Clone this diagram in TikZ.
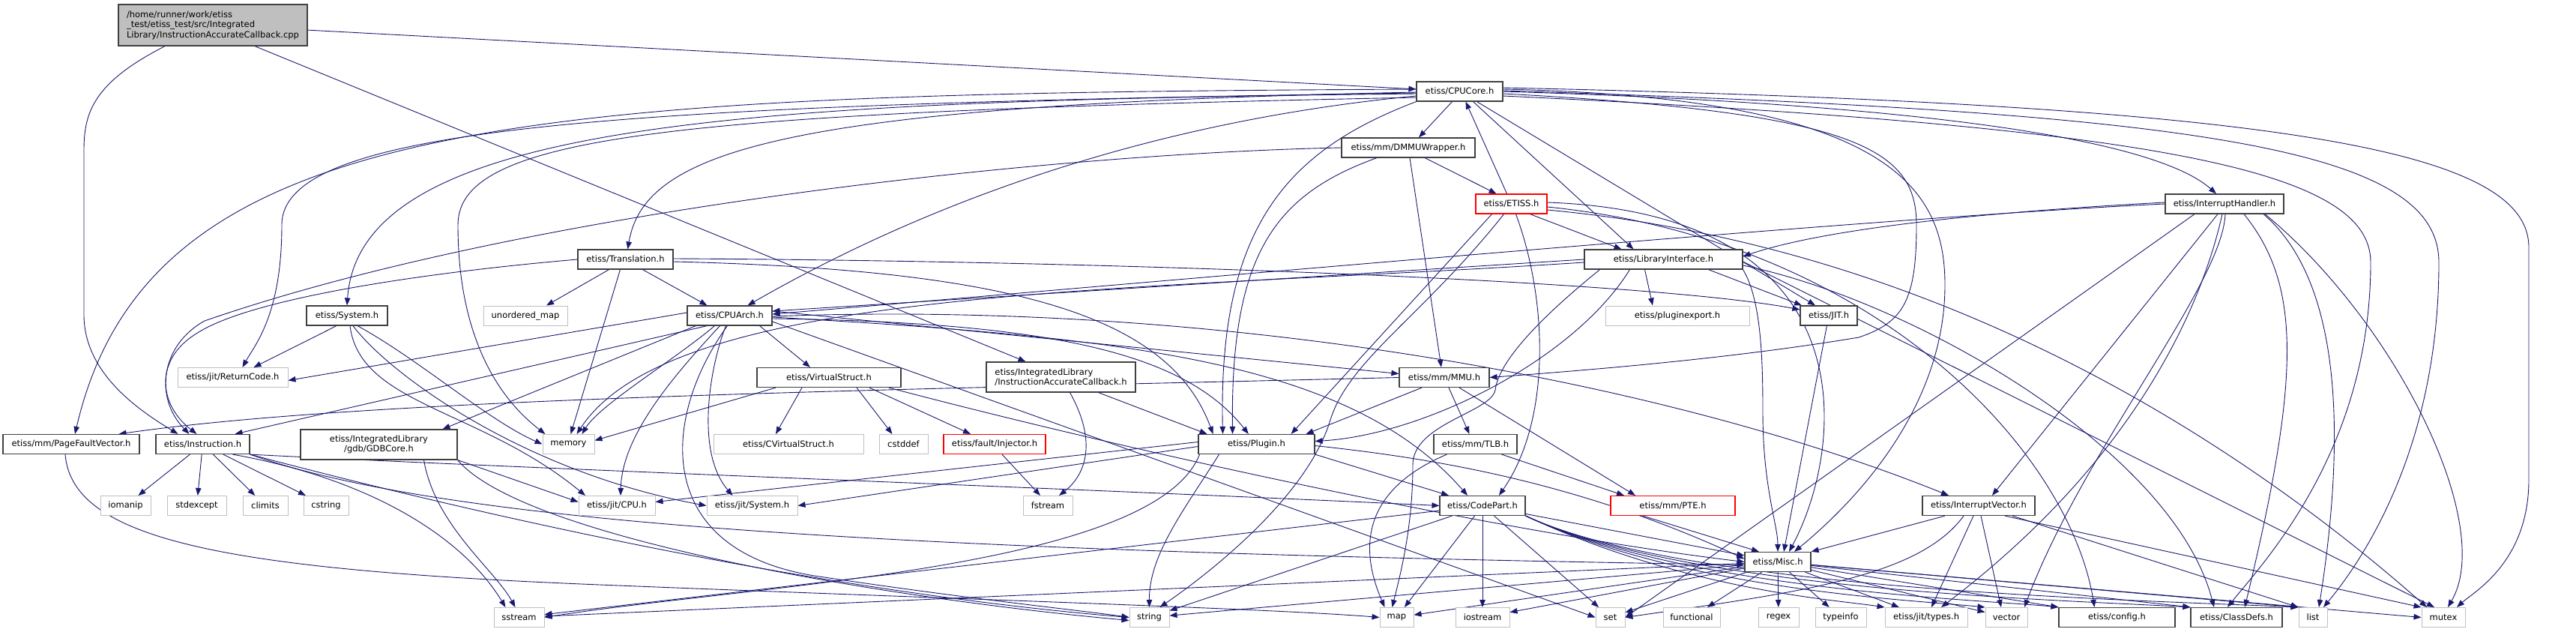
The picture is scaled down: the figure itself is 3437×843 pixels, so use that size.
\documentclass[tikz,border=0pt]{standalone}
\usepackage{fontspec}
\setmainfont{DejaVu Sans}
\usetikzlibrary{arrows.meta}
\pgfdeclarelayer{edges}
\pgfsetlayers{edges,main}
\definecolor{edgeblue}{HTML}{191970}
\definecolor{framegrey}{HTML}{404040}
\definecolor{lightframe}{HTML}{BFBFBF}
\definecolor{filegrey}{HTML}{BFBFBF}
\begin{document}
\begin{tikzpicture}[x=1pt, y=-1pt,
  every node/.style={font=\fontsize{11.5}{13.5}\selectfont, inner sep=0pt, minimum height=26pt},
  hdr/.style={draw=framegrey, line width=1.2pt, fill=white},
  sysinc/.style={draw=lightframe, line width=1pt, fill=white},
  partial/.style={draw=red, line width=1.2pt, fill=white},
  srcfile/.style={draw=framegrey, line width=1.2pt, fill=filegrey, align=left},
  dep/.style={edgeblue, line width=0.9pt, -{Triangle[length=10pt,width=7.5pt]}}]
\useasboundingbox (0,0) rectangle (3437,843);

\node[srcfile, minimum width=252pt, minimum height=55pt] (root) at (284,33.5) {/home/runner/work/etiss\\\_test/etiss\_test/src/Integrated\\Library/InstructionAccurateCallback.cpp};
\node[hdr, minimum width=115pt] (cc) at (1947.5,122) {etiss/CPUCore.h};
\node[hdr, minimum width=178pt] (dmmu) at (1879,197) {etiss/mm/DMMUWrapper.h};
\node[partial, minimum width=95pt] (et) at (2016.5,272) {etiss/ETISS.h};
\node[hdr, minimum width=211pt] (li) at (2219.5,346) {etiss/LibraryInterface.h};
\node[hdr, minimum width=158pt] (ih) at (2968,272) {etiss/InterruptHandler.h};
\node[hdr, minimum width=127pt] (tr) at (834.5,346) {etiss/Translation.h};
\node[hdr, minimum width=113pt] (cpa) at (973.5,421) {etiss/CPUArch.h};
\node[hdr, minimum width=108pt] (sys) at (463,421) {etiss/System.h};
\node[sysinc, minimum width=112pt] (um) at (701,421) {unordered\_map};
\node[sysinc, minimum width=192pt] (pe) at (2238,421) {etiss/pluginexport.h};
\node[hdr, minimum width=76pt] (jit) at (2440,421) {etiss/JIT.h};
\node[sysinc, minimum width=147pt] (rc) at (310.5,503.5) {etiss/jit/ReturnCode.h};
\node[hdr, minimum width=192pt] (vs) at (1106,503.5) {etiss/VirtualStruct.h};
\node[hdr, minimum width=199pt, minimum height=40pt, align=left] (iacb) at (1415.5,503) {etiss/IntegratedLibrary\\/InstructionAccurateCallback.h};
\node[hdr, minimum width=120pt] (mmu) at (1927,503.5) {etiss/mm/MMU.h};
\node[hdr, minimum width=182pt] (pfv) at (95,592.5) {etiss/mm/PageFaultVector.h};
\node[hdr, minimum width=125pt] (ins) at (270.5,592.5) {etiss/Instruction.h};
\node[hdr, minimum width=209pt, minimum height=40pt, align=center] (gdb) at (505.5,593) {etiss/IntegratedLibrary\\/gdb/GDBCore.h};
\node[sysinc, minimum width=69pt] (mem) at (758.5,592.5) {memory};
\node[sysinc, minimum width=200pt] (cvs) at (1052,592.5) {etiss/CVirtualStruct.h};
\node[sysinc, minimum width=65pt] (cstd) at (1205.5,592.5) {cstddef};
\node[partial, minimum width=136pt] (inj) at (1327,592.5) {etiss/fault/Injector.h};
\node[hdr, minimum width=155pt] (plg) at (1676.5,592.5) {etiss/Plugin.h};
\node[hdr, minimum width=111pt] (tlb) at (1968.5,592.5) {etiss/mm/TLB.h};
\node[sysinc, minimum width=67pt] (ioman) at (167.5,674.5) {iomanip};
\node[sysinc, minimum width=79pt] (stdx) at (262.5,674.5) {stdexcept};
\node[sysinc, minimum width=60pt] (clim) at (354,674.5) {climits};
\node[sysinc, minimum width=60pt] (cstr) at (435,674.5) {cstring};
\node[sysinc, minimum width=102pt] (jcpu) at (823,674.5) {etiss/jit/CPU.h};
\node[sysinc, minimum width=121pt] (jsys) at (1003.5,674.5) {etiss/jit/System.h};
\node[sysinc, minimum width=66pt] (fst) at (1398,674.5) {fstream};
\node[hdr, minimum width=114pt] (cp) at (1978,674.5) {etiss/CodePart.h};
\node[partial, minimum width=166pt] (pte) at (2232,674.5) {etiss/mm/PTE.h};
\node[hdr, minimum width=150pt] (iv) at (2640,674.5) {etiss/InterruptVector.h};
\node[hdr, minimum width=88pt] (misc) at (2372,749.5) {etiss/Misc.h};
\node[sysinc, minimum width=67pt] (ss) at (692.5,823.5) {sstream};
\node[sysinc, minimum width=53pt] (str) at (1533.5,823.5) {string};
\node[sysinc, minimum width=45pt] (map) at (1863.5,823.5) {map};
\node[sysinc, minimum width=72pt] (ios) at (1978,823.5) {iostream};
\node[sysinc, minimum width=39pt] (set) at (2148.5,823.5) {set};
\node[sysinc, minimum width=76pt] (fun) at (2257,823.5) {functional};
\node[sysinc, minimum width=54pt] (rgx) at (2373,823.5) {regex};
\node[sysinc, minimum width=68pt] (tpi) at (2456,823.5) {typeinfo};
\node[sysinc, minimum width=110pt] (typ) at (2570,823.5) {etiss/jit/types.h};
\node[sysinc, minimum width=56pt] (vec) at (2677,823.5) {vector};
\node[hdr, minimum width=155pt] (cfg) at (2824.5,823.5) {etiss/config.h};
\node[hdr, minimum width=122pt] (cd) at (2984,823.5) {etiss/ClassDefs.h};
\node[sysinc, minimum width=38pt] (lst) at (3086,823.5) {list};
\node[sysinc, minimum width=58pt] (mtx) at (3260,823.5) {mutex};

\begin{pgfonlayer}{edges}
\draw[dep] (root) -- (cc);
\draw[dep] ([xshift=-64pt]root.south) .. controls (125,110) and (112,150) .. (112,200) -- (112,420) .. controls (112,500) and (190,550) .. ([xshift=-33pt]ins.north);
\draw[dep] ([xshift=56pt]root.south) -- ([xshift=-47pt]iacb.north);

\draw[dep] ([xshift=-10pt]cc.south) -- ([xshift=14pt]dmmu.north);
\draw[dep] ([xshift=18pt]cc.south) -- ([xshift=-40pt]li.north);
\draw[dep] ([xshift=23pt]cc.south) -- ([xshift=-18pt]jit.north);
\draw[dep] (cc.east) .. controls (2600,140) and (2880,190) .. ([xshift=-11pt]ih.north);
\draw[dep] ([yshift=-6pt]cc.west) .. controls (1450,170) and (1150,320) .. ([xshift=24pt]cpa.north);
\draw[dep] ([yshift=-3pt]cc.west) .. controls (1000,135) and (480,160) .. (sys.north);
\draw[dep] ([yshift=-1pt]cc.west) .. controls (1050,140) and (860,200) .. ([xshift=3pt]tr.north);
\draw[dep] ([yshift=3pt]cc.west) .. controls (700,125) and (200,150) .. ([xshift=5pt]pfv.north);
\draw[dep] ([yshift=-8pt]cc.west) .. controls (900,150) and (611,180) .. (611,300) .. controls (611,480) and (690,550) .. ([xshift=-31pt]mem.north);
\draw[dep] ([yshift=-2pt]cc.west) .. controls (800,140) and (376,170) .. (376,300) .. controls (376,420) and (340,460) .. ([xshift=13pt]rc.north);
\draw[dep] (cc.south west) .. controls (1720,200) and (1625,300) .. ([xshift=-45pt]plg.north);
\draw[dep] ([yshift=-3pt]cc.east) .. controls (2480,150) and (2557,200) .. (2557,300) .. controls (2557,400) and (2540,430) .. (2480,450) .. controls (2300,480) and (2100,495) .. (mmu.east);
\draw[dep] ([yshift=3pt]cc.east) .. controls (2520,130) and (2595,250) .. (2595,380) .. controls (2595,560) and (2450,690) .. ([xshift=22pt]misc.north);
\draw[dep] ([yshift=-6pt]cc.east) .. controls (2900,170) and (3163,230) .. (3163,350) .. controls (3163,600) and (3020,750) .. ([xshift=-12pt]cd.north);
\draw[dep] ([yshift=1pt]cc.east) .. controls (2950,150) and (3254,200) .. (3254,350) .. controls (3254,600) and (3150,750) .. ([xshift=14pt]lst.north);
\draw[dep] ([yshift=5pt]cc.east) .. controls (3050,140) and (3374,200) .. (3374,330) -- (3374,640) .. controls (3374,750) and (3300,790) .. ([xshift=18pt]mtx.north);

\draw[dep] ([xshift=22pt]dmmu.south) -- ([xshift=-20pt]et.north);
\draw[dep] ([xshift=2pt]dmmu.south) -- ([xshift=-4pt]mmu.north);
\draw[dep] ([xshift=-42pt]dmmu.south) .. controls (1700,260) and (1642,340) .. ([xshift=-32pt]plg.north);
\draw[dep] (dmmu.west) .. controls (1400,205) and (700,280) .. (273,428) .. controls (215,460) and (205,530) .. ([xshift=-18pt]ins.north);

\draw[dep] ([xshift=-6pt]et.north) -- ([xshift=8pt]cc.south);
\draw[dep] ([xshift=25pt]et.south) -- ([xshift=-56pt]li.north);
\draw[dep] ([xshift=-26pt]et.south) -- ([xshift=-32pt]plg.north east);
\draw[dep] ([xshift=-10pt]et.south) .. controls (1900,420) and (1800,480) .. (1775,560) .. controls (1745,660) and (1620,760) .. ([xshift=14pt]str.north);
\draw[dep] ([xshift=6pt]et.south) .. controls (2065,400) and (2070,560) .. ([xshift=22pt]cp.north);
\draw[dep] ([yshift=2pt]et.east) .. controls (2500,285) and (2460,600) .. ([xshift=15pt]misc.north);
\draw[dep] ([yshift=-4pt]et.east) .. controls (2500,320) and (2760,600) .. ([xshift=-30pt]cfg.north);
\draw[dep] ([yshift=-8pt]et.east) .. controls (2600,330) and (3000,600) .. ([xshift=-22pt]mtx.north);

\draw[dep] ([xshift=-25pt]li.south) -- ([xshift=-33pt]pe.north);
\draw[dep] ([xshift=60pt]li.south) -- ([xshift=-36pt]jit.north);
\draw[dep] (li.south east) .. controls (2350,400) and (2352,480) .. (2352,550) .. controls (2352,650) and (2372,700) .. (misc.north);
\draw[dep] (li.west) -- ([yshift=6pt]cpa.east);
\draw[dep] ([xshift=-45pt]li.south) .. controls (2100,480) and (1900,580) .. ([yshift=4pt]plg.east);
\draw[dep] ([xshift=-85pt]li.south) .. controls (2060,420) and (2000,480) .. (1995,520) .. controls (1990,550) and (1885,565) .. (1885,620) .. controls (1885,700) and (1870,760) .. ([xshift=-6pt]map.north);
\draw[dep] ([yshift=-4pt]li.west) .. controls (1500,390) and (900,380) .. ([xshift=11pt]mem.north);
\draw[dep] ([yshift=-8pt]li.east) .. controls (2550,400) and (2900,600) .. ([xshift=-30pt]cd.north);
\draw[dep] ([yshift=-3pt]li.east) -- ([xshift=-12pt]mtx.north);

\draw[dep] ([yshift=2pt]ih.west) .. controls (2700,280) and (2450,300) .. ([yshift=4pt]li.east);
\draw[dep] (ih.west) .. controls (2500,290) and (1500,380) .. ([yshift=2pt]cpa.east);
\draw[dep] ([xshift=-9pt]ih.south) -- ([xshift=18pt]iv.north);
\draw[dep] ([xshift=-3pt]ih.south) .. controls (2935,420) and (2840,620) .. ([xshift=20pt]typ.north);
\draw[dep] ([xshift=1pt]ih.south) .. controls (2965,380) and (2780,600) .. ([xshift=24pt]vec.north);
\draw[dep] ([xshift=26pt]ih.south) .. controls (3070,380) and (3070,500) .. ([xshift=11pt]cd.north);
\draw[dep] ([xshift=52pt]ih.south) .. controls (3130,380) and (3127,600) .. ([xshift=8pt]lst.north);
\draw[dep] ([xshift=54pt]ih.south) .. controls (3197,430) and (3330,700) .. ([xshift=6pt]mtx.north);
\draw[dep] ([xshift=-40pt]ih.south) -- (set.east);

\draw[dep] ([xshift=-22pt]tr.south) -- ([xshift=28pt]um.north);
\draw[dep] ([xshift=23pt]tr.south) -- ([xshift=-30pt]cpa.north);
\draw[dep] ([xshift=-7pt]tr.south) -- ([xshift=3pt]mem.north);
\draw[dep] (tr.west) .. controls (550,365) and (330,400) .. (262,445) .. controls (205,480) and (212,540) .. ([xshift=-8pt]ins.north);
\draw[dep] ([yshift=1pt]tr.east) .. controls (1500,348) and (2200,375) .. ([yshift=8pt]jit.west);
\draw[dep] ([yshift=-3pt]tr.east) .. controls (1350,360) and (1560,420) .. ([xshift=-58pt]plg.north);

\draw[dep] ([xshift=-14pt]sys.south) -- ([xshift=28pt]rc.north);
\draw[dep] ([xshift=14pt]sys.south) .. controls (560,480) and (650,560) .. (mem.west);
\draw[dep] ([xshift=4pt]sys.south) .. controls (480,540) and (640,545) .. ([xshift=-42pt]jcpu.north);
\draw[dep] ([xshift=8pt]sys.south) .. controls (520,500) and (700,630) .. (jsys.west);

\draw[dep] ([yshift=4pt]cpa.west) -- ([yshift=-4pt]rc.east);
\draw[dep] ([xshift=-30pt]cpa.south) -- ([xshift=43pt]ins.north);
\draw[dep] ([xshift=-45pt]cpa.south) -- ([xshift=85pt]gdb.north);
\draw[dep] ([xshift=-20pt]cpa.south) .. controls (900,480) and (800,540) .. ([xshift=18pt]mem.north);
\draw[dep] ([xshift=40pt]cpa.south) -- ([xshift=-25pt]vs.north);
\draw[dep] ([xshift=-13pt]cpa.south) .. controls (900,500) and (830,580) .. ([xshift=5pt]jcpu.north);
\draw[dep] ([xshift=-5pt]cpa.south) .. controls (950,480) and (925,600) .. ([xshift=-26pt]jsys.north);
\draw[dep] ([xshift=-3pt]cpa.south) .. controls (880,560) and (870,740) .. (1100,770) .. controls (1300,800) and (1450,815) .. (str.west);
\draw[dep] ([yshift=-4pt]cpa.east) .. controls (1400,430) and (1580,470) .. (plg);
\draw[dep] ([yshift=6pt]cpa.east) -- ([yshift=5pt]mmu.west);
\draw[dep] ([yshift=-2pt]cpa.east) .. controls (1500,450) and (1800,480) .. ([xshift=-20pt]cp.north);
\draw[dep] ([yshift=-1pt]cpa.east) .. controls (1600,400) and (2200,500) .. ([xshift=-40pt]iv.north);
\draw[dep] ([yshift=-8pt]cpa.east) -- (set.west);

\draw[dep] ([xshift=-36pt]vs.south) -- ([xshift=-17pt]cvs.north);
\draw[dep] ([xshift=-71pt]vs.south) -- ([yshift=5pt]mem.east);
\draw[dep] ([xshift=37pt]vs.south) -- ([xshift=-15pt]cstd.north);
\draw[dep] ([xshift=54pt]vs.south) -- ([xshift=-32pt]inj.north);
\draw[dep] ([xshift=80pt]vs.south) .. controls (1500,600) and (2000,710) .. (misc.west);

\draw[dep] ([xshift=10pt]inj.south) -- ([xshift=-10pt]fst.north);
\draw[dep] ([xshift=50pt]iacb.south) -- ([xshift=-66pt]plg.north);
\draw[dep] ([xshift=12pt]iacb.south) .. controls (1470,600) and (1440,640) .. ([xshift=15pt]fst.north);

\draw[dep] (mmu.west) .. controls (1200,520) and (500,530) .. ([xshift=-28pt]pfv.north east);
\draw[dep] ([xshift=-30pt]mmu.south) -- ([xshift=-12pt]plg.north east);
\draw[dep] ([xshift=6pt]mmu.south) -- ([xshift=-8pt]tlb.north);
\draw[dep] ([xshift=20pt]mmu.south) -- ([xshift=-50pt]pte.north);
\draw[dep] ([xshift=-38pt]tlb.south) .. controls (1850,640) and (1800,700) .. ([xshift=-16pt]map.north);
\draw[dep] ([xshift=35pt]tlb.south) -- ([xshift=-65pt]pte.north);

\draw[dep] ([yshift=3pt]plg.west) -- ([yshift=5pt]jcpu.east);
\draw[dep] ([yshift=-3pt]plg.west) -- (jsys.east);
\draw[dep] ([xshift=-50pt]plg.south) .. controls (1580,680) and (1533,740) .. (str.north);
\draw[dep] ([xshift=-76pt]plg.south) .. controls (1540,760) and (1000,780) .. (ss.east);
\draw[dep] (plg.south east) -- ([xshift=-45pt]cp.north);
\draw[dep] ([yshift=-2pt]plg.east) .. controls (1900,610) and (2100,640) .. ([yshift=4pt]misc.west);

\foreach \t in {map, ios, set, str, ss, misc} \draw[dep] (cp) -- (\t);
\foreach \t/\a in {typ/2450, vec/2550, cfg/2650, cd/2750, lst/2850} \draw[dep] (cp.south east) .. controls (2250,788) and (\a,800) .. (\t.north west);

\draw[dep] ([xshift=-40pt]pte.south) -- ([xshift=-25pt]misc.north);
\draw[dep] (jit) -- ([xshift=8pt]misc.north);
\draw[dep] ([xshift=-45pt]iv.south) -- (misc.north east);
\draw[dep] ([xshift=-20pt]iv.south) .. controls (2560,770) and (2400,790) .. (set.east);
\draw[dep] ([xshift=-7pt]iv.south) -- ([xshift=7pt]typ.north);
\draw[dep] ([xshift=3pt]iv.south) -- ([xshift=-7pt]vec.north);
\draw[dep] ([xshift=35pt]iv.south) -- (mtx.north west);
\draw[dep] ([xshift=45pt]iv.south) -- (lst.north west);

\foreach \t in {ioman, stdx, clim, cstr} \draw[dep] (ins) -- (\t);
\draw[dep] ([xshift=40pt]ins.south) .. controls (500,640) and (620,720) .. ([xshift=-18pt]ss.north);
\draw[dep] (ins.south east) .. controls (650,690) and (1100,790) .. (str.west);
\draw[dep] (ins.south east) .. controls (700,625) and (1400,650) .. (cp.west);
\draw[dep] (ins.south east) .. controls (600,700) and (1200,735) .. ([yshift=-4pt]misc.west);

\draw[dep] (gdb.south east) -- ([yshift=5pt]jcpu.west);
\draw[dep] (gdb.south east) .. controls (700,720) and (1200,800) .. ([yshift=-4pt]str.west);
\draw[dep] ([xshift=60pt]gdb.south) .. controls (580,700) and (660,760) .. ([xshift=-5pt]ss.north);
\draw[dep] ([xshift=-8pt]pfv.south) .. controls (96,720) and (300,760) .. (800,780) .. controls (1300,800) and (1700,812) .. (map.west);

\foreach \t in {fun, rgx, tpi, typ, vec, ss, str, map, ios, set} \draw[dep] (misc) -- (\t);
\foreach \t in {cfg, cd, lst} \draw[dep] (misc) -- (\t.north west);
\draw[dep] (misc) -- (mtx.west);
\end{pgfonlayer}
\end{tikzpicture}
\end{document}
